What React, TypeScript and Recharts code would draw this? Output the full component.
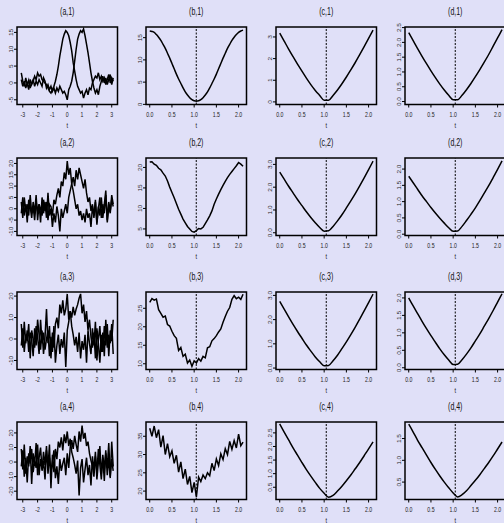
import React from 'react';
import { LineChart, Line, XAxis, YAxis, ReferenceLine, ReferenceArea } from 'recharts';

// Grid of t values
const T_A = [
  -3.1, -3.0, -2.9, -2.8, -2.7, -2.6, -2.5, -2.4, -2.3, -2.2, -2.1, -2.0, -1.9, -1.8, -1.7, -1.6,
  -1.5, -1.4, -1.3, -1.2, -1.1, -1.0, -0.9, -0.8, -0.7, -0.6, -0.5, -0.4, -0.3, -0.2, -0.1, 0.0,
  0.1, 0.2, 0.3, 0.4, 0.5, 0.6, 0.7, 0.8, 0.9, 1.0, 1.1, 1.2, 1.3, 1.4, 1.5, 1.6, 1.7, 1.8, 1.9,
  2.0, 2.1, 2.2, 2.3, 2.4, 2.5, 2.6, 2.7, 2.8, 2.9, 3.0, 3.1,
];
const T_B = [
  0.0, 0.05, 0.1, 0.15, 0.2, 0.25, 0.3, 0.35, 0.4, 0.45, 0.5, 0.55, 0.6, 0.65, 0.7, 0.75, 0.8,
  0.85, 0.9, 0.95, 1.0, 1.05, 1.1, 1.15, 1.2, 1.25, 1.3, 1.35, 1.4, 1.45, 1.5, 1.55, 1.6, 1.65,
  1.7, 1.75, 1.8, 1.85, 1.9, 1.95, 2.0, 2.05, 2.1,
];
const T_C = [
  0.0, 0.1, 0.2, 0.3, 0.4, 0.5, 0.6, 0.7, 0.8, 0.9, 1.0, 1.1, 1.2, 1.3, 1.4, 1.5, 1.6, 1.7, 1.8,
  1.9, 2.0, 2.1,
];
const REF_T = 1.047;

// column a: two noisy bumps
const A1_S1 = [1.0, -1.0, 0.5, -1.5, 0.0, -2.0, 1.0, -0.5, 0.5, 2.0, 1.0, 3.0, 2.0, 2.5, 1.0, 0.5, 0.0, -0.5, -1.5, -2.5, -3.0, -2.0, -1.0, 0.5, 2.5, 5.0, 8.0, 10.5, 13.0, 14.5, 15.5, 15.0, 14.0, 12.0, 9.5, 6.0, 3.5, 1.0, -1.0, -2.0, -3.0, -2.5, -4.5, -3.0, -2.0, -3.5, -1.5, -2.0, 0.0, 1.0, 2.0, 1.5, 3.0, 1.0, 2.0, 0.5, 1.5, -0.5, 1.0, 2.5, 0.0, 1.5, 0.5];
const A1_S2 = [3.0, 0.5, -1.0, 1.5, -0.5, 0.8, -1.5, 0.0, 1.0, -1.0, 0.5, -0.5, 1.0, 0.0, -1.0, 1.5, 0.5, -1.5, -0.5, -2.0, -1.0, -2.5, -1.5, -3.0, -1.5, -2.5, -1.0, -2.0, -3.0, -2.5, -3.5, -5.0, -2.0, -1.0, 0.5, 3.0, 6.5, 10.0, 13.0, 14.5, 15.5, 15.0, 16.0, 14.0, 11.5, 9.0, 6.0, 3.0, 0.5, -1.5, -3.0, -2.0, -3.5, -1.0, 0.5, 2.0, 0.0, 1.5, -0.5, 1.0, 2.5, -0.5, 1.5];
const A2_S1 = [-2, 5, -3, 2, -6, 4, 1, -4, 3, -2, 6, -5, 2, 0, -3, 4, -1, 3, -5, 2, 1, -3, 4, 2, 6, 9, 5, 12, 10, 16, 13, 21, 15, 18, 11, 8, 4, 0, 2, -3, -1, -5, -2, -6, 0, -4, -2, -8, 1, -3, 3, -6, 0, 5, -4, 2, -2, 6, -5, 3, -1, 4, 1];
const A2_S2 = [3, -4, 5, -1, 2, -3, 6, -2, 1, -5, 3, -1, 2, -6, 5, -2, 3, -4, 7, -3, 0, -8, -2, -6, 1, -3, -10, 0, -4, -1, 2, -2, 5, 8, 11, 14, 10, 17, 13, 18, 15, 12, 9, 13, 7, 3, 5, -1, 2, -4, 4, -7, 1, -3, 5, -4, 2, 8, -6, 1, -2, 6, 2];
const A3_S1 = [7, -4, 8, -2, 4, -6, 3, 0, -8, 5, -3, 9, 2, -5, 4, -7, 1, 14, -2, 6, -9, 3, -4, 7, 10, 5, 16, 12, 18, 11, 14, 21, 9, 13, 6, 2, -3, 1, -6, 3, -9, -1, -5, 2, -11, 4, -2, -7, 5, -3, 8, -10, 0, 6, -6, 3, -8, 9, -4, 2, -2, 7, -7];
const A3_S2 = [-3, 5, -6, 2, -1, 7, -9, 4, 0, -4, 6, 1, -7, 9, -2, 3, -5, 0, 4, -8, 1, -6, 6, -11, -3, 2, -7, 0, -4, 3, -13, 4, 8, 13, 10, 15, 11, 14, 16, 19, 21, 12, 16, 8, 13, 4, 9, 1, -4, 3, -9, 5, -2, -11, 2, -6, 6, -3, 7, -8, 4, -1, 9];
const A4_S1 = [9, -5, 12, -8, 4, -3, 11, -15, 6, -2, 13, -9, 3, 10, -6, 1, -12, 8, -4, 12, -18, 5, -7, 9, 2, 14, 10, 17, 8, 19, 13, 21, 11, 16, 7, 3, -2, -8, 1, -23, -4, 2, -14, -5, 3, -9, -2, -16, 4, -6, 7, -12, 0, 11, -8, 3, -13, 6, -4, 13, -10, 2, -6];
const A4_S2 = [-3, 8, -10, 3, -14, 6, -1, 9, -7, 1, -4, 12, -9, 2, -5, 7, -2, 11, -8, 3, -6, 0, 8, -11, -3, -15, 2, -6, -1, 3, -9, 6, -4, 10, 15, 9, 18, 12, 7, 21, 14, 25, 16, 20, 11, 14, 6, 1, -3, -10, 4, -7, 9, -2, -12, 5, -5, 8, -9, 3, -11, 14, -3];

// column b
const B1 = [16.5, 16.4, 16.2, 15.7, 15.1, 14.4, 13.5, 12.6, 11.5, 10.4, 9.2, 8.0, 6.8, 5.7, 4.7, 3.7, 2.8, 2.1, 1.5, 1.05, 0.8, 0.7, 0.8, 1.05, 1.5, 2.1, 2.8, 3.7, 4.7, 5.7, 6.8, 8.0, 9.2, 10.4, 11.5, 12.6, 13.5, 14.4, 15.1, 15.7, 16.2, 16.5, 16.7];
const B2 = [21.3, 21.4, 20.8, 20.5, 19.8, 19.4, 18.6, 17.9, 16.7, 15.2, 13.9, 12.6, 11.2, 9.8, 8.6, 7.4, 6.5, 5.6, 5.0, 4.4, 4.2, 4.6, 5.1, 5.0, 5.4, 6.3, 7.2, 8.2, 9.4, 11.0, 12.3, 13.5, 14.6, 15.6, 16.6, 17.5, 18.3, 19.0, 19.7, 20.4, 21.2, 20.8, 20.3];
const B3 = [26.6, 27.6, 27.2, 27.5, 24.6, 23.6, 22.6, 22.9, 20.6, 20.2, 18.8, 17.6, 16.9, 13.6, 14.4, 12.0, 12.6, 10.2, 11.0, 9.3, 10.8, 10.2, 11.4, 10.7, 12.0, 11.6, 14.3, 14.6, 16.2, 16.8, 17.6, 18.6, 19.4, 21.2, 22.8, 24.2, 25.2, 27.4, 28.4, 27.6, 28.0, 27.4, 28.8];
const B4 = [37.2, 35.0, 37.8, 34.6, 36.8, 32.0, 35.2, 30.0, 33.0, 29.4, 31.0, 27.6, 29.8, 25.2, 28.0, 23.4, 26.0, 21.8, 24.0, 19.6, 22.4, 18.4, 23.8, 22.6, 24.4, 23.4, 25.0, 24.2, 27.6, 25.6, 28.8, 27.0, 30.2, 28.6, 31.6, 30.0, 33.6, 31.4, 33.8, 31.8, 35.6, 32.4, 33.4];

// columns c and d
const C1 = [3.18, 2.81, 2.44, 2.09, 1.75, 1.42, 1.1, 0.8, 0.53, 0.3, 0.08, 0.08, 0.3, 0.55, 0.84, 1.15, 1.48, 1.82, 2.18, 2.55, 2.93, 3.32];
const C2 = [2.66, 2.35, 2.04, 1.75, 1.46, 1.19, 0.92, 0.67, 0.44, 0.23, 0.07, 0.09, 0.28, 0.52, 0.79, 1.09, 1.4, 1.72, 2.06, 2.41, 2.77, 3.14];
const C3 = [2.75, 2.43, 2.11, 1.8, 1.51, 1.23, 0.95, 0.7, 0.46, 0.26, 0.1, 0.11, 0.3, 0.53, 0.8, 1.08, 1.38, 1.69, 2.02, 2.36, 2.7, 3.05];
const C4 = [2.83, 2.53, 2.24, 1.95, 1.68, 1.41, 1.15, 0.91, 0.68, 0.46, 0.28, 0.13, 0.2, 0.36, 0.54, 0.74, 0.95, 1.18, 1.41, 1.66, 1.91, 2.17];
const D1 = [2.33, 2.06, 1.79, 1.53, 1.28, 1.04, 0.81, 0.59, 0.39, 0.21, 0.06, 0.06, 0.21, 0.4, 0.61, 0.84, 1.08, 1.33, 1.59, 1.87, 2.15, 2.43];
const D2 = [1.78, 1.58, 1.38, 1.18, 1.0, 0.82, 0.65, 0.49, 0.34, 0.2, 0.09, 0.1, 0.24, 0.42, 0.61, 0.81, 1.03, 1.26, 1.49, 1.74, 1.99, 2.25];
const D3 = [2.0, 1.77, 1.55, 1.33, 1.12, 0.92, 0.73, 0.54, 0.37, 0.22, 0.09, 0.1, 0.23, 0.39, 0.57, 0.77, 0.97, 1.19, 1.41, 1.64, 1.88, 2.12];
const D4 = [1.83, 1.65, 1.46, 1.29, 1.12, 0.95, 0.79, 0.64, 0.5, 0.37, 0.25, 0.16, 0.21, 0.3, 0.42, 0.54, 0.67, 0.81, 0.95, 1.1, 1.26, 1.42];

// ticks
const X_TICKS_A = [-3, -2, -1, 0, 1, 2, 3];
const X_TICKS_B = [0, 0.5, 1, 1.5, 2];

// layout
const BG = '#e0e0f8';
const COL_X = [17, 146, 275.5, 404.5];
const ROW_Y = [27, 158, 292, 422];
const W = 100.5;
const H = 77.5;
const PAD_L = 22;
const PAD_R = 4;
const PAD_T = 4;
const PAD_B = 20;
const FONT = '"Liberation Sans", Arial, Helvetica, sans-serif';

const fmt0 = (v: number) => String(v);
const fmt1 = (v: number) => v.toFixed(1);

function XTick(props: any) {
  const { x, y, payload, fmt } = props;
  return (
    <text
      transform={`translate(${x},${y + 7}) scale(0.8,1)`}
      textAnchor="middle"
      fontSize={6.5}
      fontFamily={FONT}
      fill="#222"
    >
      {fmt(payload.value)}
    </text>
  );
}

function YTick(props: any) {
  const { x, y, payload, fmt } = props;
  return (
    <text
      transform={`translate(${x - 0.5},${y}) scale(0.75,1) rotate(-90)`}
      textAnchor="middle"
      fontSize={6.5}
      fontFamily={FONT}
      fill="#222"
    >
      {fmt(payload.value)}
    </text>
  );
}

interface PanelProps {
  title: string;
  col: number;
  row: number;
  data: any[];
  keys: string[];
  xDomain: [number, number];
  xTicks: number[];
  xFmt: (v: number) => string;
  yDomain: [number, number];
  yTicks: number[];
  yFmt: (v: number) => string;
  smooth?: boolean;
  refLine?: boolean;
}

function Panel({ title, col, row, data, keys, xDomain, xTicks, xFmt, yDomain, yTicks, yFmt, smooth, refLine }: PanelProps) {
  const left = COL_X[col];
  const top = ROW_Y[row];
  return (
    <>
      <div
        style={{
          position: 'absolute', left, top: top - 21, width: W, height: 12, lineHeight: '12px',
          textAlign: 'center', fontSize: 10, fontFamily: FONT, color: '#111', transform: 'scaleX(0.7)',
        }}
      >
        {title}
      </div>
      <div style={{ position: 'absolute', left: left - PAD_L, top: top - PAD_T }}>
        <LineChart
          width={W + PAD_L + PAD_R}
          height={H + PAD_T + PAD_B}
          data={data}
          margin={{ top: PAD_T, right: PAD_R, bottom: 0, left: 0 }}
        >
          <XAxis
            dataKey="t"
            type="number"
            domain={xDomain}
            ticks={xTicks}
            interval={0}
            allowDataOverflow
            axisLine={false}
            tickSize={3}
            tickLine={{ stroke: '#000' }}
            height={PAD_B}
            tick={(p: any) => <XTick {...p} fmt={xFmt} />}
          />
          <YAxis
            type="number"
            domain={yDomain}
            ticks={yTicks}
            interval={0}
            allowDataOverflow
            axisLine={false}
            tickSize={3}
            tickMargin={1}
            tickLine={{ stroke: '#000' }}
            width={PAD_L}
            tick={(p: any) => <YTick {...p} fmt={yFmt} />}
          />
          {refLine && (
            <ReferenceLine x={REF_T} stroke="#000" strokeWidth={1} strokeDasharray="2 1.5" />
          )}
          {keys.map((k) => (
            <Line
              key={k}
              dataKey={k}
              type={smooth ? 'monotone' : 'linear'}
              stroke="#000"
              strokeWidth={1.5}
              dot={false}
              isAnimationActive={false}
            />
          ))}
          <ReferenceArea
            x1={xDomain[0]}
            x2={xDomain[1]}
            y1={yDomain[0]}
            y2={yDomain[1]}
            fill="none"
            stroke="#000"
            strokeWidth={1.5}
            ifOverflow="visible"
          />
        </LineChart>
      </div>
      <div
        style={{
          position: 'absolute', left, top: top + H + 18, width: W, height: 6, lineHeight: '6px',
          textAlign: 'center', fontSize: 7, fontFamily: FONT, color: '#222', transform: 'scaleX(0.8)',
        }}
      >
        t
      </div>
    </>
  );
}

const X_DOM_A: [number, number] = [-3.39, 3.39];
const X_DOM_B: [number, number] = [-0.084, 2.178];

const dataA = (s1: number[], s2: number[]) => T_A.map((t, i) => ({ t, y1: s1[i], y2: s2[i] }));
const dataB = (s: number[]) => T_B.map((t, i) => ({ t, y: s[i] }));
const dataC = (s: number[]) => T_C.map((t, i) => ({ t, y: s[i] }));

export default function App() {
  const rows = [
    {
      a: { d: dataA(A1_S1, A1_S2), dom: [-6.4, 16.6], ticks: [-5, 0, 5, 10, 15] },
      b: { d: dataB(B1), dom: [-0.03, 17.4], ticks: [0, 5, 10, 15], smooth: true },
      c: { d: dataC(C1), dom: [-0.12, 3.46], ticks: [0, 1, 2, 3], fmt: fmt0 },
      dd: { d: dataC(D1), dom: [-0.1, 2.52], ticks: [0, 0.5, 1, 1.5, 2, 2.5] },
    },
    {
      a: { d: dataA(A2_S1, A2_S2), dom: [-11.8, 22.4], ticks: [-10, -5, 0, 5, 10, 15, 20] },
      b: { d: dataB(B2), dom: [3.4, 22.3], ticks: [5, 10, 15, 20], smooth: false },
      c: { d: dataC(C2), dom: [-0.12, 3.28], ticks: [0, 1, 2, 3], fmt: fmt1 },
      dd: { d: dataC(D2), dom: [-0.04, 2.34], ticks: [0, 0.5, 1, 1.5, 2] },
    },
    {
      a: { d: dataA(A3_S1, A3_S2), dom: [-14.2, 21.9], ticks: [-10, 0, 10, 20] },
      b: { d: dataB(B3), dom: [8.45, 29.4], ticks: [10, 15, 20, 25], smooth: false },
      c: { d: dataC(C3), dom: [-0.06, 3.14], ticks: [0, 1, 2, 3], fmt: fmt1 },
      dd: { d: dataC(D3), dom: [-0.05, 2.17], ticks: [0, 0.5, 1, 1.5, 2] },
    },
    {
      a: { d: dataA(A4_S1, A4_S2), dom: [-25.7, 27.5], ticks: [-20, -10, 0, 10, 20] },
      b: { d: dataB(B4), dom: [17.7, 38.9], ticks: [20, 25, 30, 35], smooth: false },
      c: { d: dataC(C4), dom: [0.05, 2.9], ticks: [0.5, 1, 1.5, 2, 2.5], fmt: fmt1 },
      dd: { d: dataC(D4), dom: [0.1, 1.88], ticks: [0.5, 1, 1.5] },
    },
  ];

  return (
    <div
      style={{
        position: 'absolute', left: 0, top: 0, width: 504, height: 523,
        overflow: 'hidden', background: BG,
      }}
    >
      {rows.map((r, i) => (
        <React.Fragment key={i}>
          <Panel
            title={`(a,${i + 1})`} col={0} row={i} data={r.a.d} keys={['y1', 'y2']}
            xDomain={X_DOM_A} xTicks={X_TICKS_A} xFmt={fmt0}
            yDomain={r.a.dom as [number, number]} yTicks={r.a.ticks} yFmt={fmt0}
          />
          <Panel
            title={`(b,${i + 1})`} col={1} row={i} data={r.b.d} keys={['y']}
            xDomain={X_DOM_B} xTicks={X_TICKS_B} xFmt={fmt1}
            yDomain={r.b.dom as [number, number]} yTicks={r.b.ticks} yFmt={fmt0}
            smooth={r.b.smooth} refLine
          />
          <Panel
            title={`(c,${i + 1})`} col={2} row={i} data={r.c.d} keys={['y']}
            xDomain={X_DOM_B} xTicks={X_TICKS_B} xFmt={fmt1}
            yDomain={r.c.dom as [number, number]} yTicks={r.c.ticks} yFmt={r.c.fmt}
            smooth refLine
          />
          <Panel
            title={`(d,${i + 1})`} col={3} row={i} data={r.dd.d} keys={['y']}
            xDomain={X_DOM_B} xTicks={X_TICKS_B} xFmt={fmt1}
            yDomain={r.dd.dom as [number, number]} yTicks={r.dd.ticks} yFmt={fmt1}
            smooth refLine
          />
        </React.Fragment>
      ))}
    </div>
  );
}
